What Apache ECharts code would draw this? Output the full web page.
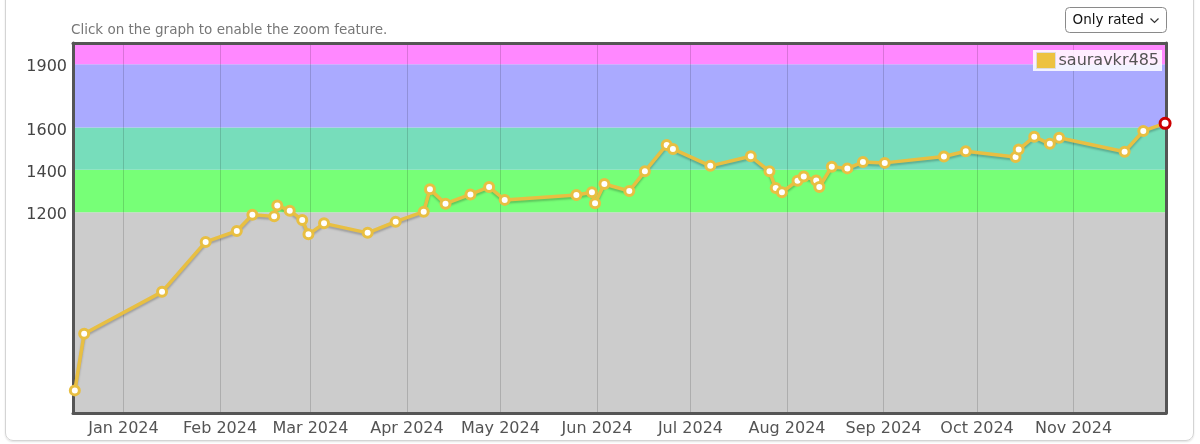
<!DOCTYPE html>
<html>
<head>
<meta charset="utf-8">
<script src="https://cdn.jsdelivr.net/npm/echarts@6/dist/echarts.min.js"></script>
<style>
  html, body { margin: 0; padding: 0; background: #fff; }
  .frame {
    position: absolute; left: 5px; top: -10px; width: 1187px; height: 449px;
    border: 1px solid #d4d4d4; border-radius: 8px;
    box-shadow: 0 1px 2px rgba(0, 0, 0, 0.12);
  }
  #chartRating { position: absolute; left: 0; top: 0; width: 1200px; height: 444px; }
</style>
</head>
<body>
<div class="frame"></div>
<div id="chartRating"></div>
<script>
// contest dates and rating after each contest
var dates = ['2023-12-16', '2023-12-19', '2024-01-13', '2024-01-27', '2024-02-06', '2024-02-11',
  '2024-02-18', '2024-02-19', '2024-02-23', '2024-02-27', '2024-02-29', '2024-03-05',
  '2024-03-19', '2024-03-28', '2024-04-06', '2024-04-08', '2024-04-13', '2024-04-21',
  '2024-04-27', '2024-05-02', '2024-05-25', '2024-05-30', '2024-05-31', '2024-06-03',
  '2024-06-11', '2024-06-16', '2024-06-23', '2024-06-25', '2024-07-07', '2024-07-20',
  '2024-07-26', '2024-07-28', '2024-07-30', '2024-08-04', '2024-08-06', '2024-08-10',
  '2024-08-11', '2024-08-15', '2024-08-20', '2024-08-25', '2024-09-01', '2024-09-20',
  '2024-09-27', '2024-10-13', '2024-10-14', '2024-10-19', '2024-10-24', '2024-10-27',
  '2024-11-17', '2024-11-23', '2024-11-30'];
var ratings = [357, 625, 823, 1059, 1111, 1188,
  1180, 1232, 1207, 1163, 1095, 1147,
  1102, 1155, 1202, 1308, 1240, 1284,
  1319, 1258, 1281, 1294, 1242, 1333,
  1300, 1393, 1518, 1499, 1419, 1464,
  1393, 1314, 1294, 1349, 1369, 1350,
  1319, 1415, 1407, 1437, 1433, 1463,
  1488, 1461, 1496, 1557, 1523, 1552,
  1486, 1584, 1620];
var handle = 'sauravkr485';
var yTicks = [1200, 1400, 1600, 1900];
var rankBounds = [250, 1200, 1400, 1600, 1900, 2000];
var rankColors = ['#cccccc', '#77ff77', '#77ddbb', '#aaaaff', '#ff88ff'];
var xMin = '2023-12-15 19:00';
var xMax = '2024-11-30 16:00';
var monthNames = ['Jan', 'Feb', 'Mar', 'Apr', 'May', 'Jun', 'Jul', 'Aug', 'Sep', 'Oct', 'Nov', 'Dec'];

var font = 'DejaVu Sans';

var seriesData = dates.map(function(d, i) {
  var item = { value: [d + ' 09:00', ratings[i]] };
  if (i === dates.length - 1) {
    item.symbolSize = 10;
    item.itemStyle = { color: '#fff', borderColor: '#cc0000', borderWidth: 3 };
  }
  return item;
});

var bands = [];
for (var i = 0; i < rankColors.length; i++) {
  bands.push([
    { yAxis: rankBounds[i], itemStyle: { color: rankColors[i] } },
    { yAxis: rankBounds[i + 1] }
  ]);
}

var borderLine = { show: true, onZero: false, lineStyle: { color: '#555', width: 3 } };

var option = {
  animation: false,
  title: {
    text: 'Click on the graph to enable the zoom feature.',
    left: 66,
    top: 18,
    textStyle: { fontFamily: font, fontSize: 13.5, fontWeight: 'normal', color: '#777' }
  },
  legend: {
    right: 38,
    top: 50,
    padding: [2, 3, 2, 3],
    backgroundColor: 'rgba(255,255,255,0.85)',
    itemWidth: 19,
    itemHeight: 16,
    data: [{ name: handle, icon: 'rect', itemStyle: { color: '#edc240', borderColor: '#ddd', borderWidth: 1 } }],
    textStyle: { fontFamily: font, fontSize: 16, color: '#545454', padding: [0, 0, 0, -2] }
  },
  grid: {
    left: 73,
    right: 34,
    top: 43,
    bottom: 31
  },
  xAxis: [
    {
      type: 'time',
      min: xMin,
      max: xMax,
      splitNumber: 11,
      z: 2,
      axisLine: borderLine,
      axisTick: { show: false },
      axisLabel: {
        fontFamily: font,
        fontSize: 16,
        color: '#545454',
        margin: 8,
        showMinLabel: false,
        showMaxLabel: false,
        formatter: function(val) {
          var d = new Date(val);
          return monthNames[d.getMonth()] + ' ' + d.getFullYear();
        }
      },
      splitLine: { show: true, lineStyle: { color: 'rgba(0,0,0,0.15)', width: 1 } }
    },
    {
      type: 'time',
      position: 'top',
      min: xMin,
      max: xMax,
      z: 2,
      axisLine: borderLine,
      axisTick: { show: false },
      axisLabel: { show: false },
      splitLine: { show: false }
    }
  ],
  yAxis: [
    {
      type: 'value',
      min: rankBounds[0],
      max: rankBounds[rankBounds.length - 1],
      z: 2,
      axisLine: borderLine,
      axisTick: { show: false },
      splitLine: { show: false },
      axisLabel: {
        customValues: yTicks,
        margin: 6,
        formatter: function(val) {
          return '{t|' + val + '}';
        },
        rich: {
          t: { fontFamily: font, fontSize: 16, color: '#444', padding: [6, 0, 0, 0] }
        }
      }
    },
    {
      type: 'value',
      position: 'right',
      min: rankBounds[0],
      max: rankBounds[rankBounds.length - 1],
      z: 2,
      axisLine: borderLine,
      axisTick: { show: false },
      axisLabel: { show: false },
      splitLine: { show: false }
    }
  ],
  graphic: [
    {
      type: 'group',
      left: 1065,
      top: 7,
      children: [
        { type: 'rect', shape: { x: 0, y: 0, width: 101, height: 25, r: 4 }, style: { fill: '#fff', stroke: '#8a8a8a', lineWidth: 1 } },
        { type: 'text', x: 7, y: 13, style: { text: 'Only rated', font: '13.5px "DejaVu Sans"', fill: '#111', textVerticalAlign: 'middle' } },
        { type: 'polyline', shape: { points: [[85, 11], [89, 15], [93, 11]] }, style: { stroke: '#333', lineWidth: 1.2, fill: null } }
      ]
    }
  ],
  series: [
    {
      name: handle,
      type: 'line',
      z: 3,
      data: seriesData,
      symbol: 'circle',
      symbolSize: 9,
      showAllSymbol: true,
      lineStyle: {
        color: '#e8bf42',
        width: 3.5,
        shadowColor: 'rgba(0,0,0,0.22)',
        shadowBlur: 2,
        shadowOffsetY: 2
      },
      itemStyle: {
        color: '#fff',
        borderColor: '#e8bf42',
        borderWidth: 3
      },
      markArea: {
        silent: true,
        z: 1,
        data: bands
      }
    }
  ]
};

var chartRating = echarts.init(document.getElementById('chartRating'));
chartRating.setOption(option);

window.addEventListener('resize', function() {
  chartRating.resize();
});
</script>
</body>
</html>
